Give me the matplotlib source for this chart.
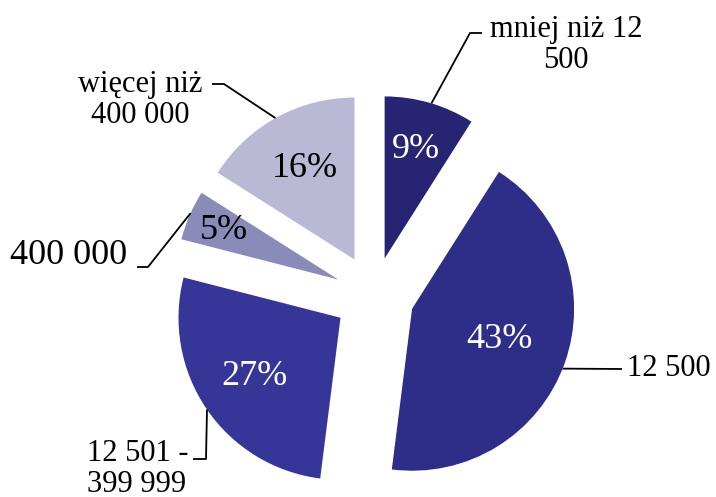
import numpy as np
import matplotlib
matplotlib.use("Agg")
import matplotlib.pyplot as plt

plt.rcParams['font.family'] = ['Liberation Serif', 'DejaVu Serif']

# data
categories = ["mniej niż 12\n500", "12 500", "12 501 -\n399 999", "400 000", "więcej niż\n400 000"]
shares = [9, 43, 27, 5, 16]
colors = ["#262473", "#2e2e88", "#363698", "#8b8bba", "#b9b9d5"]
explode = [0.235, 0.25, 0.25, 0.24, 0.25]

# layout (pixels of the 716x497 picture)
W, H = 716, 497
CX, CY, R = 374, 295, 162
pct_dist = [0.70, 0.57, 0.64, 0.77, 0.64]
pct_colors = ["white", "white", "white", "black", "black"]
anchor_deg = [73.2, -21.7, 214.5, 155.8, 119.2]
elbows = [[(470, 33), (482, 33)],
          [(622, 369)],
          [(206, 459), (193, 459)],
          [(148, 267), (137, 267)],
          [(224, 84), (212, 84)]]
label_xy = [(566, 45), (627, 369), (87, 469), (10, 256), (140, 100)]
label_ha = ["center", "left", "left", "left", "center"]
label_size = [22, 22, 22, 26, 22]


def to_data(x, y):
    return (x - CX) / R, (CY - y) / R


fig = plt.figure(figsize=(W / 100, H / 100), dpi=100)
ax = fig.add_axes([0, 0, 1, 1])

wedges, texts, autotexts = ax.pie(shares, colors=colors, explode=explode,
                                  startangle=90, counterclock=False,
                                  autopct="%d%%", radius=1,
                                  textprops=dict(fontsize=26))

for w, t, d, c in zip(wedges, autotexts, pct_dist, pct_colors):
    mid = np.radians((w.theta1 + w.theta2) / 2)
    cx, cy = w.center
    t.set_position((cx + d * w.r * np.cos(mid), cy + d * w.r * np.sin(mid)))
    t.set_color(c)

for i, w in enumerate(wedges):
    a = np.radians(anchor_deg[i])
    cx, cy = w.center
    xs = [cx + w.r * np.cos(a)]
    ys = [cy + w.r * np.sin(a)]
    for ex, ey in elbows[i]:
        dx, dy = to_data(ex, ey)
        xs.append(dx)
        ys.append(dy)
    ax.plot(xs, ys, color="black", lw=1.3, solid_capstyle="butt")
    lx, ly = to_data(*label_xy[i])
    ax.text(lx, ly, categories[i], ha=label_ha[i], va="center",
            fontsize=label_size[i], linespacing=1.1,
            multialignment="center" if label_ha[i] == "center" else "left")

ax.set_xlim(-CX / R, (W - CX) / R)
ax.set_ylim(-(H - CY) / R, CY / R)
ax.set_aspect("equal")
ax.axis("off")

fig.savefig("out.png", dpi=100)
